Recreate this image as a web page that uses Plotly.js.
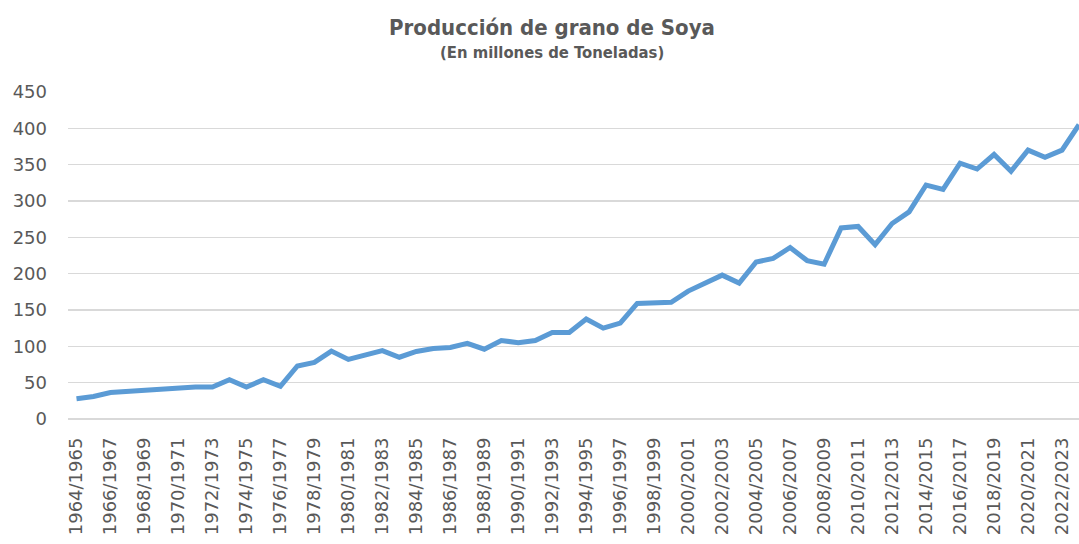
<!DOCTYPE html>
<html>
<head>
<meta charset="utf-8">
<script src="https://cdn.plot.ly/plotly-3.0.1.min.js"></script>
<style>
  html, body { margin: 0; padding: 0; background: #fff; }
  #chart { width: 1079px; height: 544px; }
</style>
</head>
<body>
<div id="chart"></div>
<script>
const campaigns = [
  "1964/1965", "1965/1966", "1966/1967", "1967/1968", "1968/1969", "1969/1970",
  "1970/1971", "1971/1972", "1972/1973", "1973/1974", "1974/1975", "1975/1976",
  "1976/1977", "1977/1978", "1978/1979", "1979/1980", "1980/1981", "1981/1982",
  "1982/1983", "1983/1984", "1984/1985", "1985/1986", "1986/1987", "1987/1988",
  "1988/1989", "1989/1990", "1990/1991", "1991/1992", "1992/1993", "1993/1994",
  "1994/1995", "1995/1996", "1996/1997", "1997/1998", "1998/1999", "1999/2000",
  "2000/2001", "2001/2002", "2002/2003", "2003/2004", "2004/2005", "2005/2006",
  "2006/2007", "2007/2008", "2008/2009", "2009/2010", "2010/2011", "2011/2012",
  "2012/2013", "2013/2014", "2014/2015", "2015/2016", "2016/2017", "2017/2018",
  "2018/2019", "2019/2020", "2020/2021", "2021/2022", "2022/2023", "2023/2024"
];

// millones de toneladas
const production = [
  28, 31, 36.5, 38, 40.5, 41, 42.5, 44, 44, 54,
  44, 54, 45, 73, 78, 93.5, 82, 87.5, 94, 85,
  93, 97, 98.5, 104, 96, 108, 105, 108, 119, 119,
  137.5, 125, 132, 159, 160.5, 160.5, 176, 187, 198, 187,
  216, 221, 236, 218, 213, 263, 265, 240, 269, 285,
  322, 316, 352, 344, 364, 341, 370, 360, 370, 405
];

const yTicks = [0, 50, 100, 150, 200, 250, 300, 350, 400, 450];

const textColor = "#595959";
const gridColor = "#D9D9D9";
const titleFont = "Liberation Sans Narrow, DejaVu Sans Condensed, Arial Narrow, sans-serif";

const drawChart = () => {
  const labelIdx = campaigns.map((c, i) => i).filter(i => i % 2 === 0);

  const data = [{
    x: campaigns.map((c, i) => i),
    y: production,
    mode: "lines",
    line: {color: "#5B9BD5", width: 5, shape: "linear"},
    hoverinfo: "skip"
  }];

  const layout = {
    width: 1079,
    height: 544,
    margin: {l: 68, r: 0, t: 92, b: 125},
    paper_bgcolor: "#fff",
    plot_bgcolor: "#fff",
    showlegend: false,
    title: {
      text: "<b>Producción de grano de Soya</b>",
      font: {family: titleFont, size: 22, color: textColor},
      x: 552 / 1079,
      xanchor: "center",
      y: 1 - 35 / 544,
      yanchor: "bottom"
    },
    annotations: [{
      text: "<b>(En millones de Toneladas)</b>",
      xref: "paper", yref: "paper",
      x: (552 - 68) / 1011,
      y: 1 + (92 - 64) / 327,
      xanchor: "center", yanchor: "bottom",
      showarrow: false,
      font: {family: titleFont, size: 16.5, color: textColor}
    }],
    xaxis: {
      range: [-0.5, 59],
      tickmode: "array",
      tickvals: labelIdx,
      ticktext: labelIdx.map(i => campaigns[i]),
      tickangle: -90,
      ticks: "",
      ticklabelstandoff: 14,
      showgrid: false,
      zeroline: false,
      showline: false,
      tickfont: {family: "DejaVu Sans", size: 18, color: textColor}
    },
    yaxis: {
      range: [0, 450],
      tickmode: "array",
      tickvals: yTicks,
      ticks: "",
      ticklabelstandoff: 20,
      showgrid: true,
      gridcolor: gridColor,
      gridwidth: 1.5,
      zeroline: true,
      zerolinecolor: gridColor,
      zerolinewidth: 1.5,
      showline: false,
      tickfont: {family: "DejaVu Sans", size: 18, color: textColor}
    }
  };

  Plotly.newPlot("chart", data, layout, {staticPlot: true, displayModeBar: false});
}

drawChart();
</script>
</body>
</html>
